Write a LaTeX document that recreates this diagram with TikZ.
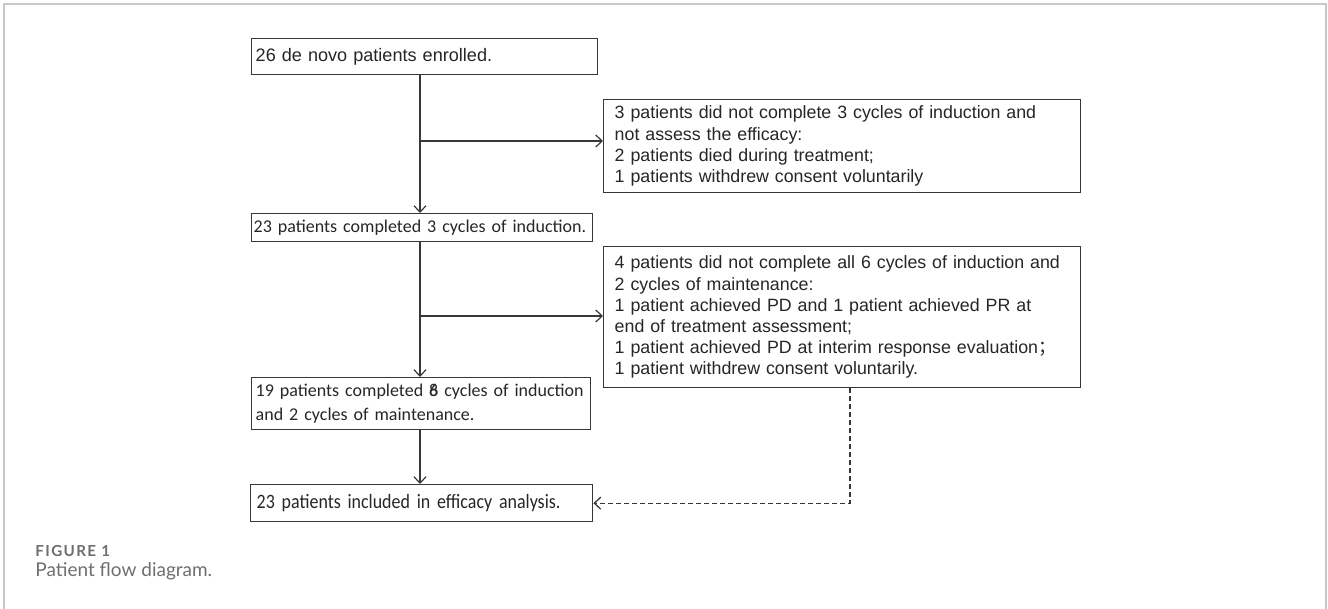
\documentclass[tikz,border=0pt]{standalone}
\usepackage{fontspec}
\setmainfont{Liberation Sans}
\newfontfamily\calfont{Carlito}
\newfontfamily\calnarrow[FakeStretch=0.88]{Carlito}
\newfontfamily\capfont{Lato}
\newfontfamily\capbold[LetterSpace=9]{Lato Bold}
\newfontfamily\cjk{Noto Sans CJK SC}
\definecolor{framegray}{RGB}{200,200,200}
\definecolor{boxgray}{RGB}{55,55,55}
\definecolor{captiongray}{RGB}{110,110,110}
\usetikzlibrary{arrows.meta,positioning,calc}

\begin{document}
\begin{tikzpicture}[
      x=0.5pt,
      y=-0.5pt,
      font=\fontsize{9.05}{10.6}\selectfont,
      flowbox/.style={
        draw=boxgray, line width=0.7pt, anchor=north west,
        align=left, inner ysep=0pt, text=black!85
      },
      exclbox/.style={flowbox, font=\fontsize{8.9}{10.6}\selectfont,
        minimum width=238.5pt, text width=227.5pt, inner xsep=5.5pt},
      calbox/.style={flowbox, font=\calfont\fontsize{9}{12}\selectfont},
      arrow/.style={-{Straight Barb[length=3.2pt,width=6pt]}, line width=0.6pt, boxgray},
      dasharrow/.style={arrow, line width=0.65pt, dash pattern=on 2.5pt off 1.5pt}
    ]
    \useasboundingbox (0,0) rectangle (1328,609);
    % figure frame
    \draw[framegray, line width=0.75pt] (4,609) -- (4,4) -- (1326,4) -- (1326,609);

    % main column
    \node[flowbox, minimum width=173pt, minimum height=18pt,
      text width=169pt, inner xsep=2pt] (enrol) at (251,38)
      {26 de novo patients enrolled.};

    \node[calbox, minimum width=170.5pt, minimum height=14pt,
      text width=168.5pt, inner xsep=1pt] (ind3) at (251,213)
      {23 patients completed 3 cycles of induction.};

    \node[calbox, minimum width=169.5pt, minimum height=26pt,
      text width=165.5pt, inner xsep=2pt] (ind6) at (251,377)
      {19 patients completed \rlap{6}8 cycles of induction\\and 2 cycles of maintenance.};

    \node[flowbox, font=\calnarrow\fontsize{10.2}{10}\selectfont,
      minimum width=171pt, minimum height=18.5pt,
      text width=165pt, inner xsep=3pt] (eff) at (250,484)
      {23 patients included in efficacy analysis.};

    % exclusion boxes
    \node[exclbox, minimum height=46.5pt] (excl1) at (603,99)
      {3 patients did not complete 3 cycles of induction and\\
       not assess the efficacy:\\
       2 patients died during treatment;\\
       1 patients withdrew consent voluntarily};

    \node[exclbox, minimum height=70.5pt] (excl2) at (603,246)
      {4 patients did not complete all 6 cycles of induction and\\
       2 cycles of maintenance:\\
       1 patient achieved PD and 1 patient achieved PR at\\
       end of treatment assessment;\\
       1 patient achieved PD at interim response evaluation{\cjk ；}\\
       1 patient withdrew consent voluntarily.};

    % connectors
    \coordinate (spine) at (420,0);
    \coordinate (j1) at (420,141);
    \coordinate (j2) at (420,316);
    \coordinate (drop) at (850,0);

    \draw[arrow] (enrol.south -| spine) -- (ind3.north -| spine);
    \draw[arrow] (ind3.south -| spine) -- (ind6.north -| spine);
    \draw[arrow] (ind6.south -| spine) -- (eff.north -| spine);
    \draw[arrow] (j1) -- (j1 -| excl1.west);
    \draw[arrow] (j2) -- (j2 -| excl2.west);
    \draw[dasharrow] (excl2.south -| drop) |- (eff.east);

    % caption
    \node[anchor=west, inner sep=0pt, font=\capbold\fontsize{7.6}{8}\selectfont,
      text=captiongray] (fig) at (35,551) {FIGURE 1};
    \node[anchor=west, inner sep=0pt, font=\capfont\fontsize{9.5}{10}\selectfont,
      text=captiongray] (cap) at (35,571) {Patient flow diagram.};
  \end{tikzpicture}
\end{document}
